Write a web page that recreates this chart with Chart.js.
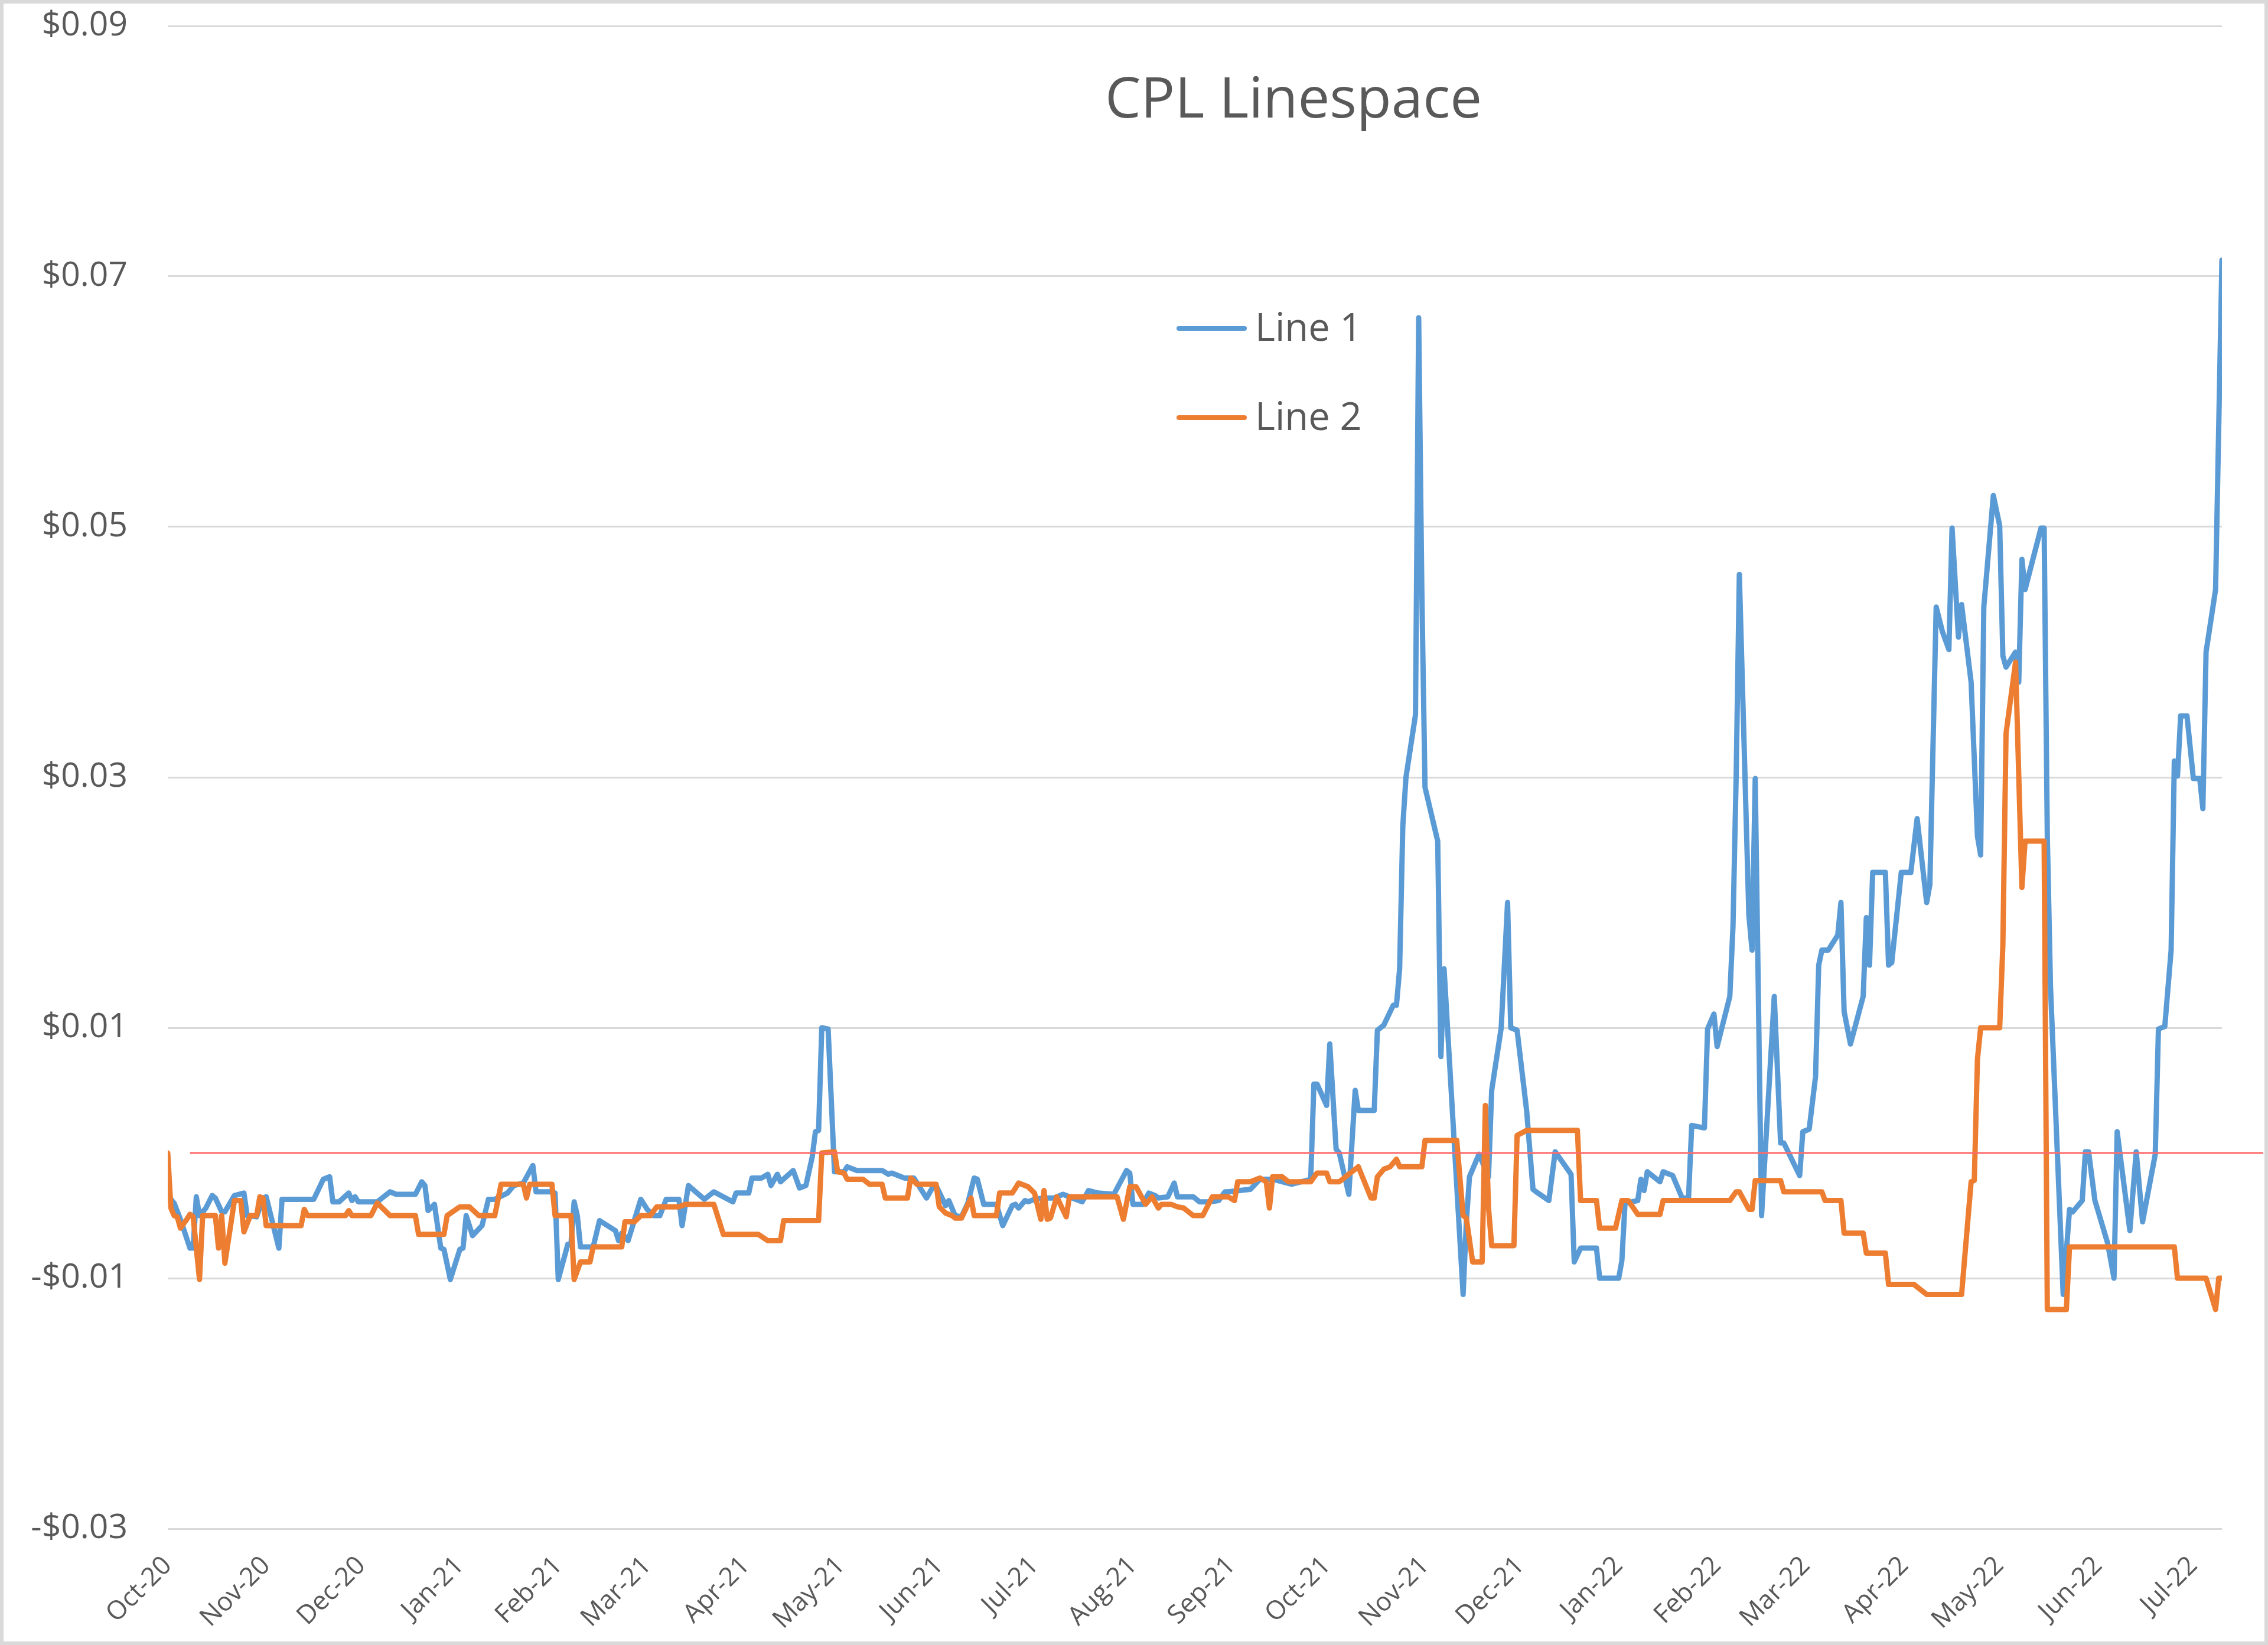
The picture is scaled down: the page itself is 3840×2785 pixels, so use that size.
<!DOCTYPE html>
<html>
<head>
<meta charset="utf-8">
<title>CPL Linespace</title>
<script src="https://cdn.jsdelivr.net/npm/chart.js@4.4.1/dist/chart.umd.min.js"></script>
<style>
  html, body { margin: 0; padding: 0; background: #fff; }
  #frame {
    width: 3840px; height: 2785px; box-sizing: border-box;
    border: 6px solid #d9d9d9; background: #fff;
  }
  canvas { display: block; }
</style>
</head>
<body>
<div id="frame"><canvas id="cpl" width="3828" height="2773"></canvas></div>
<script>
// x values are days counted from 1 Oct 2020
const chartTitle = 'CPL Linespace';

const monthLabels = ['Oct-20', 'Nov-20', 'Dec-20', 'Jan-21', 'Feb-21', 'Mar-21', 'Apr-21', 'May-21',
  'Jun-21', 'Jul-21', 'Aug-21', 'Sep-21', 'Oct-21', 'Nov-21', 'Dec-21', 'Jan-22', 'Feb-22', 'Mar-22',
  'Apr-22', 'May-22', 'Jun-22', 'Jul-22'];
const monthDays = [0, 31, 61, 92, 123, 151, 182, 212, 243, 273, 304, 335, 365, 396, 426, 457, 488, 516,
  547, 577, 608, 638];
const lastDay = 647;

const yTickValues = [-0.03, -0.01, 0.01, 0.03, 0.05, 0.07, 0.09];

const line1Days = [0, 1, 2, 4, 7, 8, 9, 10, 12, 14, 15, 17, 18, 21, 24, 25, 28, 30, 31, 35, 36, 46, 49, 51, 52, 54,
  57, 58, 59, 60, 66, 70, 72, 78, 80, 81, 82, 84, 86, 87, 89, 92, 93, 94, 96, 99, 101, 103, 107, 109,
  112, 115, 116, 121, 122, 123, 126, 127, 128, 129, 130, 134, 136, 141, 142, 143, 145, 149, 151, 153, 155,
  157, 161, 162, 164, 169, 172, 178, 179, 183, 184, 187, 189, 190, 192, 193, 197, 199, 201, 203, 204, 205,
  206, 208, 210, 213, 214, 217, 225, 227, 228, 229, 232, 235, 239, 241, 242, 245, 246, 248, 250, 252, 254,
  255, 257, 261, 263, 266, 267, 268, 270, 271, 273, 276, 279, 282, 284, 288, 290, 293, 298, 302, 303, 304,
  307, 309, 311, 312, 315, 317, 318, 323, 325, 328, 331, 333, 334, 341, 344, 348, 354, 360, 361, 362, 365,
  366, 368, 369, 372, 374, 375, 380, 381, 383, 386, 387, 388, 389, 390, 393, 394, 395, 396, 400, 401, 402,
  408, 409, 410, 413, 416, 417, 420, 422, 423, 425, 428, 430, 431, 435, 437, 442, 443, 445, 450, 451, 457,
  458, 459, 463, 464, 465, 466, 470, 471, 474, 477, 479, 480, 484, 485, 487, 488, 492, 493, 494, 495, 498,
  499, 500, 502, 506, 508, 509, 514, 515, 517, 519, 520, 521, 523, 526, 527, 528, 530, 534, 535, 536, 537,
  541, 542, 543, 546, 549, 551, 554, 555, 557, 559, 561, 562, 564, 565, 568, 570, 571, 572, 575, 577, 578,
  579, 582, 583, 584, 585, 590, 591, 592, 593, 597, 599, 600, 603, 604, 605, 607, 611, 613, 614, 618, 620,
  622, 626, 627, 629, 631, 632, 633, 634, 636, 638, 640, 641, 642, 645, 647];
const line1Vals = [-0.0030, -0.0037, -0.0040, -0.0053, -0.0076, -0.0076, -0.0035, -0.0050, -0.0044, -0.0034,
  -0.0036, -0.0047, -0.0047, -0.0034, -0.0032, -0.0050, -0.0051, -0.0036, -0.0035, -0.0076, -0.0037, -0.0037,
  -0.0021, -0.0019, -0.0039, -0.0039, -0.0032, -0.0038, -0.0035, -0.0039, -0.0039, -0.0031, -0.0033, -0.0033,
  -0.0023, -0.0026, -0.0046, -0.0041, -0.0076, -0.0077, -0.0101, -0.0077, -0.0076, -0.0050, -0.0066, -0.0058,
  -0.0037, -0.0037, -0.0032, -0.0026,
  -0.0024, -0.0010, -0.0031, -0.0031, -0.0032, -0.0101, -0.0073, -0.0073, -0.0039, -0.0050, -0.0075, -0.0075,
  -0.0054, -0.0062, -0.0070, -0.0064, -0.0070, -0.0037, -0.0045, -0.0050, -0.0050,
  -0.0037, -0.0037, -0.0058, -0.0026, -0.0037, -0.0031, -0.0039, -0.0032, -0.0032, -0.0020, -0.0020, -0.0017,
  -0.0026, -0.0017, -0.0023, -0.0014, -0.0028, -0.0026, -0.0003, 0.0017, 0.0018,
  0.0100, 0.0099, -0.0015, -0.0015, -0.0011, -0.0014, -0.0014, -0.0017, -0.0016, -0.0017, -0.0020, -0.0020,
  -0.0036, -0.0027, -0.0026, -0.0042, -0.0038, -0.0050, -0.0051, -0.0040, -0.0020,
  -0.0021, -0.0041, -0.0041, -0.0058, -0.0042, -0.0041, -0.0044, -0.0038, -0.0039, -0.0037, -0.0036, -0.0036,
  -0.0033, -0.0035, -0.0039, -0.0030, -0.0032, -0.0033, -0.0014, -0.0016, -0.0041,
  -0.0041, -0.0032, -0.0034, -0.0036, -0.0035, -0.0024, -0.0035, -0.0035, -0.0039, -0.0039, -0.0038, -0.0031,
  -0.0031, -0.0029, -0.0021, -0.0021, -0.0025, -0.0021, 0.0055, 0.0055, 0.0038,
  0.0087, 0.0003, 0.0000, -0.0033, 0.0050, 0.0034, 0.0034, 0.0098, 0.0102, 0.0118, 0.0118, 0.0147, 0.0261,
  0.0300, 0.0350, 0.0667, 0.0448, 0.0292, 0.0249, 0.0077, 0.0147,
  -0.0113, -0.0056, -0.0019, -0.0001, -0.0019, 0.0050, 0.0100, 0.0200, 0.0100, 0.0098, 0.0034, -0.0029,
  -0.0031, -0.0038, 0.0001, -0.0017, -0.0087, -0.0076, -0.0076, -0.0100, -0.0100,
  -0.0086, -0.0040, -0.0038, -0.0021, -0.0030, -0.0015, -0.0023, -0.0015, -0.0018, -0.0036, -0.0036, 0.0022,
  0.0020, 0.0099, 0.0111, 0.0085, 0.0125, 0.0181, 0.0301, 0.0462, 0.0190,
  0.0162, 0.0299, -0.0050, 0.0125, 0.0008, 0.0008, -0.0018, 0.0017, 0.0019, 0.0061, 0.0150, 0.0162, 0.0162,
  0.0174, 0.0200, 0.0113, 0.0087, 0.0125, 0.0188, 0.0150, 0.0224,
  0.0224, 0.0150, 0.0152, 0.0224, 0.0224, 0.0267, 0.0200, 0.0214, 0.0436, 0.0416, 0.0402, 0.0499, 0.0412,
  0.0438, 0.0376, 0.0253, 0.0238, 0.0436, 0.0525, 0.0501, 0.0397,
  0.0388, 0.0400, 0.0376, 0.0474, 0.0450, 0.0499, 0.0499, 0.0253, 0.0133, -0.0113, -0.0045, -0.0047, -0.0038,
  0.0001, 0.0001, -0.0038, -0.0072, -0.0100, 0.0017, -0.0062, 0.0001,
  -0.0055, -0.0001, 0.0099, 0.0101, 0.0162, 0.0313, 0.0301, 0.0349, 0.0349, 0.0299, 0.0299, 0.0275, 0.0400,
  0.0450, 0.0713];

const line2Days = [0, 1, 2, 3, 4, 6, 7, 8, 10, 11, 15, 16, 17, 18, 21, 23, 24, 26, 28, 29, 30, 31, 42, 43, 44, 56,
  57, 58, 64, 66, 70, 78, 79, 87, 88, 92, 95, 98, 103, 105, 112, 113, 114, 121, 122, 127, 128, 130, 133,
  134, 143, 144, 147, 149, 152, 154, 161, 163, 172, 175, 186, 189, 193, 194, 205, 206, 210, 211, 213, 214,
  219, 221, 225, 226, 233, 234, 236, 242, 243, 245, 247, 248, 250, 253, 254, 261, 262, 266, 268, 271, 273,
  275, 276, 277, 278, 280, 283, 284, 299, 301, 303, 305, 308, 310, 312, 313, 316, 318, 320, 323, 326, 329,
  334, 336, 337, 341, 344, 346, 347, 348, 351, 353, 360, 362, 365, 366, 369, 372, 375, 379, 380, 381, 383,
  385, 387, 388, 395, 396, 406, 408, 409, 411, 414, 415, 416, 417, 424, 425, 428, 444, 445, 450, 451, 456,
  458, 460, 463, 470, 471, 492, 494, 495, 498, 499, 500, 508, 509, 521, 522, 527, 528, 534, 535, 541, 542,
  550, 554, 565, 568, 569, 570, 571, 577, 578, 579, 582, 584, 585, 591, 592, 598, 599, 632, 633, 642, 645,
  646, 647];
const line2Vals = [0.0000, -0.0044, -0.0050, -0.0051, -0.0060, -0.0053, -0.0049, -0.0051, -0.0101, -0.0050,
  -0.0050, -0.0076, -0.0050, -0.0088, -0.0038, -0.0038, -0.0063, -0.0050, -0.0050, -0.0035, -0.0036, -0.0058,
  -0.0058, -0.0045, -0.0050, -0.0050,
  -0.0046, -0.0050, -0.0050, -0.0040, -0.0050, -0.0050, -0.0065, -0.0065, -0.0050, -0.0043, -0.0043, -0.0050,
  -0.0050, -0.0025, -0.0025, -0.0036, -0.0025, -0.0025, -0.0050, -0.0050, -0.0101, -0.0087, -0.0087,
  -0.0075, -0.0075, -0.0055, -0.0055, -0.0050, -0.0050, -0.0043, -0.0043, -0.0041, -0.0041, -0.0065, -0.0065,
  -0.0070, -0.0070, -0.0054, -0.0054, 0.0000, 0.0001, -0.0015, -0.0016, -0.0021,
  -0.0021, -0.0025, -0.0025, -0.0036, -0.0036, -0.0020, -0.0025, -0.0025, -0.0043, -0.0048, -0.0050, -0.0052,
  -0.0052, -0.0036, -0.0050, -0.0050, -0.0032, -0.0032, -0.0024, -0.0027, -0.0032,
  -0.0053, -0.0030, -0.0053, -0.0052, -0.0035, -0.0051, -0.0035, -0.0035, -0.0053, -0.0027, -0.0027, -0.0041,
  -0.0035, -0.0044, -0.0041, -0.0041, -0.0043, -0.0044, -0.0050, -0.0050, -0.0035,
  -0.0035, -0.0038, -0.0023, -0.0023, -0.0020, -0.0023, -0.0044, -0.0019, -0.0019, -0.0023, -0.0023, -0.0016,
  -0.0016, -0.0023, -0.0023, -0.0017, -0.0011, -0.0036, -0.0036, -0.0019, -0.0013,
  -0.0011, -0.0005, -0.0011, -0.0011, 0.0010, 0.0010, -0.0050, -0.0052, -0.0087, -0.0087, 0.0038, -0.0044,
  -0.0074, -0.0074, 0.0014, 0.0018, 0.0018, -0.0038, -0.0038, -0.0060, -0.0060,
  -0.0038, -0.0038, -0.0049, -0.0049, -0.0038, -0.0038, -0.0031, -0.0031, -0.0045, -0.0045, -0.0022, -0.0022,
  -0.0031, -0.0031, -0.0038, -0.0038, -0.0064, -0.0064, -0.0080, -0.0080, -0.0105,
  -0.0105, -0.0113, -0.0113, -0.0023, -0.0022, 0.0075, 0.0100, 0.0100, 0.0166, 0.0335, 0.0392, 0.0212, 0.0249,
  0.0249, -0.0125, -0.0125, -0.0075, -0.0075, -0.0100, -0.0100, -0.0125,
  -0.0100, -0.0100];

// thin red reference line at zero
const refDays = [7, 660];
const refVals = [0, 0];

const toPoints = (days, vals) => days.map((d, i) => ({ x: d, y: vals[i] }));

const fmtMoney = v => (v < 0 ? '-$' : '$') + Math.abs(v).toFixed(2);

// title and legend sit inside the plot, like the original
const floatingText = {
  id: 'floatingText',
  afterDatasetsDraw(chart) {
    const ctx = chart.ctx;
    ctx.save();
    ctx.fillStyle = '#595959';
    ctx.font = '96px "Open Sans"';
    ctx.textAlign = 'center';
    ctx.textBaseline = 'alphabetic';
    ctx.fillText(chartTitle, 2184, 193);

    ctx.font = '65px "Open Sans"';
    ctx.textAlign = 'left';
    ctx.textBaseline = 'middle';
    const rows = [550, 701];
    chart.data.datasets.filter(ds => ds.inLegend).forEach((ds, i) => {
      const y = rows[i];
      ctx.strokeStyle = ds.borderColor;
      ctx.lineWidth = 8;
      ctx.lineCap = 'round';
      ctx.beginPath();
      ctx.moveTo(1990, y);
      ctx.lineTo(2101, y);
      ctx.stroke();
      ctx.fillText(ds.label, 2119, y + 2);
    });
    ctx.restore();
  }
};

new Chart(document.getElementById('cpl'), {
  type: 'line',
  data: {
    datasets: [
      {
        label: 'Line 1', inLegend: true, order: 2,
        data: toPoints(line1Days, line1Vals),
        borderColor: '#5B9BD5', borderWidth: 9,
        pointRadius: 0, tension: 0, borderJoinStyle: 'round', borderCapStyle: 'round'
      },
      {
        label: 'Line 2', inLegend: true, order: 1,
        data: toPoints(line2Days, line2Vals),
        borderColor: '#ED7D31', borderWidth: 9,
        pointRadius: 0, tension: 0, borderJoinStyle: 'round', borderCapStyle: 'round'
      },
      {
        label: 'zero', inLegend: false, order: 0,
        data: toPoints(refDays, refVals),
        borderColor: '#FF6B6B', borderWidth: 3,
        pointRadius: 0, clip: false
      }
    ]
  },
  options: {
    responsive: false,
    devicePixelRatio: 1,
    animation: false,
    layout: { padding: { top: 38, right: 72, bottom: 0, left: 0 } },
    plugins: {
      legend: { display: false },
      title: { display: false },
      tooltip: { enabled: false }
    },
    scales: {
      x: {
        type: 'linear', min: 0, max: lastDay,
        grid: { display: false, drawTicks: false, tickLength: 0 },
        border: { display: false },
        afterBuildTicks: scale => { scale.ticks = monthDays.map(v => ({ value: v })); },
        afterFit: scale => { scale.height = 191; },
        ticks: {
          autoSkip: false, minRotation: 45, maxRotation: 45, padding: 37,
          color: '#595959', font: { family: 'Open Sans', size: 44 },
          callback: (v, i) => monthLabels[i]
        }
      },
      y: {
        min: -0.03, max: 0.09,
        grid: { color: '#d9d9d9', lineWidth: 3, drawTicks: false },
        border: { display: false },
        afterBuildTicks: scale => { scale.ticks = yTickValues.map(v => ({ value: v })); },
        afterFit: scale => {
          scale.width = 278;
          // the big tick padding is horizontal only; keep it from pushing the plot down
          scale.paddingTop = 30;
          scale.paddingBottom = 30;
        },
        ticks: {
          padding: 68, color: '#595959', font: { family: 'Open Sans', size: 57 },
          callback: v => fmtMoney(v)
        }
      }
    }
  },
  plugins: [floatingText]
});
</script>
</body>
</html>
